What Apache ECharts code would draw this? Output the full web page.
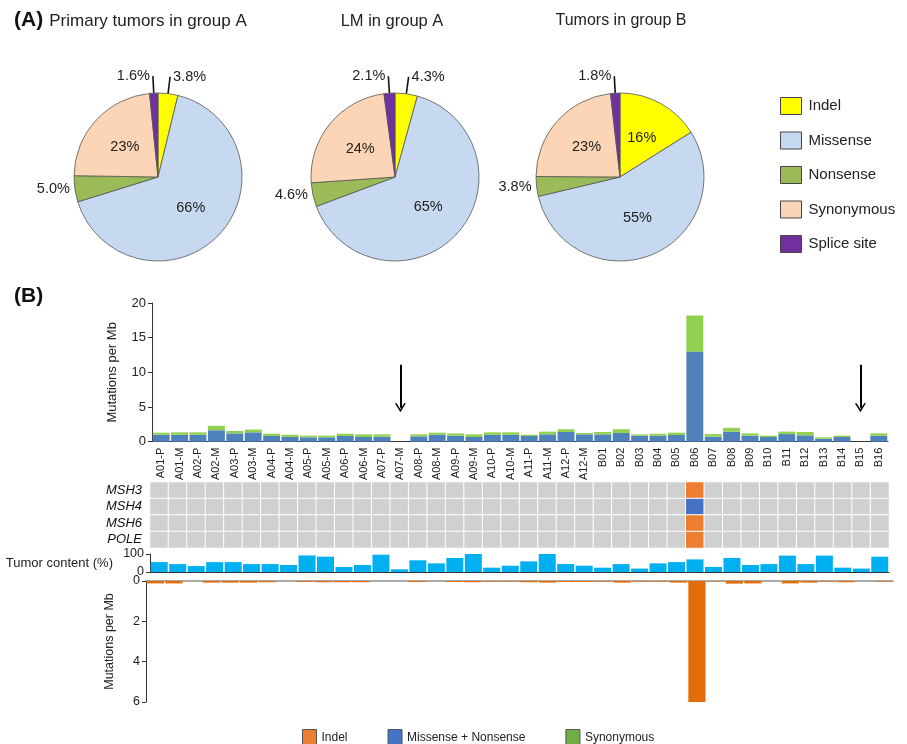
<!DOCTYPE html>
<html><head><meta charset="utf-8">
<script src="https://cdn.jsdelivr.net/npm/echarts@6/dist/echarts.min.js"></script>
<style>html,body{margin:0;padding:0;background:#fff}#c{width:907px;height:744px}</style>
</head><body><div id="c"></div>
<script>
// ---------- DATA ----------
const pieCategories = ['Indel', 'Missense', 'Nonsense', 'Synonymous', 'Splice site'];
const piePrimaryA = [3.8, 66, 5.0, 23, 1.6];
const pieLMA = [4.3, 65, 4.6, 24, 2.1];
const pieGroupB = [16, 55, 3.8, 23, 1.8];
const pieTitles = ['Primary tumors in group A', 'LM in group A', 'Tumors in group B'];

const samples = ['A01-P','A01-M','A02-P','A02-M','A03-P','A03-M','A04-P','A04-M','A05-P','A05-M',
  'A06-P','A06-M','A07-P','A07-M','A08-P','A08-M','A09-P','A09-M','A10-P','A10-M',
  'A11-P','A11-M','A12-P','A12-M','B01','B02','B03','B04','B05','B06',
  'B07','B08','B09','B10','B11','B12','B13','B14','B15','B16'];
// Mutations per Mb (top panel, stacked)
const missenseNonsense = [1.0,1.0,1.0,1.65,1.2,1.35,0.82,0.68,0.63,0.63,
  0.82,0.68,0.72,0,0.77,1.0,0.87,0.68,1.0,1.0,
  0.82,1.06,1.4,1.06,1.06,1.25,0.87,0.87,0.97,13.0,
  0.72,1.45,0.87,0.68,1.1,0.92,0.43,0.68,0,0.87];
const synonymous = [0.3,0.35,0.35,0.65,0.35,0.4,0.33,0.32,0.24,0.24,
  0.33,0.38,0.34,0,0.29,0.3,0.33,0.38,0.35,0.35,
  0.18,0.39,0.4,0.19,0.34,0.55,0.19,0.28,0.33,5.2,
  0.38,0.55,0.33,0.19,0.35,0.48,0.2,0.19,0,0.33];
// arrows mark samples without data
const arrowSamples = ['A07-M', 'B15'];
const arrowFrom = 11.1, arrowTo = 4.9;
// gene mutation status (0 none, 1 type 1, 2 type 2)
const genes = ['MSH3', 'MSH4', 'MSH6', 'POLE'];
const statusMSH3 = [0,0,0,0,0,0,0,0,0,0, 0,0,0,0,0,0,0,0,0,0, 0,0,0,0,0,0,0,0,0,1, 0,0,0,0,0,0,0,0,0,0];
const statusMSH4 = [0,0,0,0,0,0,0,0,0,0, 0,0,0,0,0,0,0,0,0,0, 0,0,0,0,0,0,0,0,0,2, 0,0,0,0,0,0,0,0,0,0];
const statusMSH6 = [0,0,0,0,0,0,0,0,0,0, 0,0,0,0,0,0,0,0,0,0, 0,0,0,0,0,0,0,0,0,1, 0,0,0,0,0,0,0,0,0,0];
const statusPOLE = [0,0,0,0,0,0,0,0,0,0, 0,0,0,0,0,0,0,0,0,0, 0,0,0,0,0,0,0,0,0,1, 0,0,0,0,0,0,0,0,0,0];
// Tumor content (%)
const tumorContent = [55,44,33,55,55,44,44,39,92,85,28,39,96,15,65,48,78,100,24,35,
  59,100,44,35,24,44,19,48,55,70,28,78,39,44,91,44,91,24,19,85];
// Indel mutations per Mb (bottom panel)
const indel = [0.12,0.12,0,0.08,0.08,0.08,0.06,0,0.04,0.06,
  0.06,0.06,0,0,0.05,0,0.05,0.06,0.03,0.03,
  0.06,0.08,0.05,0.05,0.03,0.08,0.03,0.03,0.08,6.0,
  0.02,0.13,0.12,0,0.12,0.08,0.03,0.06,0,0.03];
const topTicks = {min: 0, max: 20, interval: 5};
const bottomTicks = {min: 0, max: 6, interval: 2};

// ---------- STYLE ----------
const FONT = 'Liberation Sans, Arial, sans-serif';
const pieColors = ['#ffff00', '#c6d9f1', '#9bbb59', '#fbd5b5', '#7030a0'];
const pieCenters = [[158, 177], [395, 177], [620, 177]];
const titleX = [143, 387, 616];
const titleSizes = [17, 16.5, 16];

function pieData(values) {
  return pieCategories.map((n, i) => {
    const inside = values[i] >= 10;
    const sideLabel = n === 'Nonsense';
    return {
      name: n, value: values[i],
      itemStyle: {color: pieColors[i]},
      label: inside ? {position: 'inside'} : {position: 'outside'},
      labelLine: inside ? {show: false} :
        (sideLabel ? {show: false, length: 2, length2: 0} : {show: true, length: 17, length2: 0})
    };
  });
}
const pies = [piePrimaryA, pieLMA, pieGroupB].map((vals, k) => ({
  type: 'pie', center: pieCenters[k], radius: 84, startAngle: 90, clockwise: true,
  animation: false, silent: true, avoidLabelOverlap: false,
  itemStyle: {borderColor: '#555', borderWidth: 0.8},
  label: {fontFamily: FONT, fontSize: 14.5, color: '#222', distanceToLabelLine: 3,
    formatter: p => (p.value >= 10 ? p.value.toFixed(0) : p.value.toFixed(1)) + '%'},
  labelLine: {lineStyle: {color: '#111', width: 1.6}},
  data: pieData(vals)
}));

const heatData = [];
[statusMSH3, statusMSH4, statusMSH6, statusPOLE].forEach((arr, r) => {
  arr.forEach((v, i) => heatData.push([i, r, v]));
});

const axisCol = '#333';
const chevron = 'path://M0,10 L5,0 L10,10 L8.4,10 L5,3.2 L1.6,10 Z';
const option = {
  animation: false,
  textStyle: {fontFamily: FONT},
  title: [
    {text: '(A)', left: 9, top: 5, textStyle: {fontFamily: FONT, fontSize: 21, fontWeight: 'bold', color: '#111'}},
    {text: '(B)', left: 9, top: 281, textStyle: {fontFamily: FONT, fontSize: 21, fontWeight: 'bold', color: '#111'}}
  ].concat(pieTitles.map((t, k) => ({
    text: t, left: titleX[k], top: 8, textAlign: 'center',
    textStyle: {fontFamily: FONT, fontSize: titleSizes[k], fontWeight: 'normal', color: '#222'}
  }))),
  legend: [
    {data: pieCategories, orient: 'vertical', left: 775, top: 92, itemWidth: 21, itemHeight: 17,
      itemGap: 16.5, icon: 'rect', selectedMode: false,
      itemStyle: {borderColor: '#444', borderWidth: 1},
      textStyle: {fontFamily: FONT, fontSize: 15, color: '#222', padding: [0, 0, 0, 2]}},
    {data: [
        {name: 'b_Indel', itemStyle: {color: '#ed7d31', borderColor: '#555', borderWidth: 1}},
        {name: 'b_MN', itemStyle: {color: '#4472c4', borderColor: '#555', borderWidth: 1}},
        {name: 'b_Syn', itemStyle: {color: '#70ad47', borderColor: '#555', borderWidth: 1}}],
      left: 297, top: 724, itemWidth: 14, itemHeight: 17, itemGap: 40, icon: 'rect', selectedMode: false,
      formatter: n => ({b_Indel: 'Indel', b_MN: 'Missense + Nonsense', b_Syn: 'Synonymous'})[n],
      textStyle: {fontFamily: FONT, fontSize: 12, color: '#222'}}
  ],
  visualMap: {type: 'piecewise', show: false, seriesIndex: 5, dimension: 2,
    pieces: [{value: 0, color: '#d0d0d0'}, {value: 1, color: '#ed7d31'}, {value: 2, color: '#4472c4'}]},
  grid: [
    {left: 152, top: 303, width: 736, height: 138.7},
    {left: 150, top: 482, width: 739, height: 66},
    {left: 150, top: 554, width: 739, height: 18},
    {left: 146, top: 581, width: 747, height: 121}
  ],
  xAxis: [
    {type: 'category', gridIndex: 0, data: samples,
      axisLine: {lineStyle: {color: axisCol}}, axisTick: {show: false},
      axisLabel: {rotate: 90, fontSize: 11, color: '#222', margin: 6, interval: 0}},
    {type: 'category', gridIndex: 1, data: samples, show: false},
    {type: 'category', gridIndex: 2, data: samples, axisLine: {lineStyle: {color: axisCol}},
      axisTick: {show: false}, axisLabel: {show: false}},
    {type: 'category', gridIndex: 3, data: samples, position: 'top',
      axisLine: {lineStyle: {color: '#aaa', width: 2}}, axisTick: {show: false}, axisLabel: {show: false}}
  ],
  yAxis: [
    {type: 'value', gridIndex: 0, min: topTicks.min, max: topTicks.max, interval: topTicks.interval,
      name: 'Mutations per Mb', nameLocation: 'middle', nameGap: 33,
      nameTextStyle: {fontSize: 13, color: '#222'},
      axisLine: {show: true, lineStyle: {color: axisCol}}, axisTick: {show: true, length: 4},
      splitLine: {show: false}, axisLabel: {fontSize: 13, color: '#222', margin: 6}},
    {type: 'category', gridIndex: 1, data: genes, inverse: true,
      axisLine: {show: false}, axisTick: {show: false},
      axisLabel: {fontSize: 13, fontStyle: 'italic', color: '#111', margin: 8, interval: 0}},
    {type: 'value', gridIndex: 2, min: 0, max: 100, interval: 100,
      name: 'Tumor content (%)', nameLocation: 'middle', nameRotate: 0, nameGap: 37,
      nameTextStyle: {fontSize: 13, color: '#222'},
      axisLine: {show: true, lineStyle: {color: axisCol}}, axisTick: {show: true, length: 4},
      splitLine: {show: false}, axisLabel: {fontSize: 12.5, color: '#222', margin: 6}},
    {type: 'value', gridIndex: 3, min: bottomTicks.min, max: bottomTicks.max, interval: bottomTicks.interval,
      inverse: true, name: 'Mutations per Mb', nameLocation: 'middle', nameGap: 30,
      nameTextStyle: {fontSize: 12.5, color: '#222'},
      axisLine: {show: true, lineStyle: {color: axisCol}}, axisTick: {show: true, length: 4},
      splitLine: {show: false}, axisLabel: {fontSize: 12.5, color: '#222', margin: 6}}
  ],
  series: pies.concat([
    {type: 'bar', name: 'b_MN', xAxisIndex: 0, yAxisIndex: 0, stack: 'top', data: missenseNonsense,
      barCategoryGap: '8%', itemStyle: {color: '#4f81bd'}, silent: true,
      markLine: {silent: true, symbol: ['none', chevron], symbolSize: [11, 9],
        lineStyle: {color: '#000', width: 2, type: 'solid'}, label: {show: false},
        data: arrowSamples.map(s => [{coord: [s, arrowFrom]}, {coord: [s, arrowTo]}])}},
    {type: 'bar', name: 'b_Syn', xAxisIndex: 0, yAxisIndex: 0, stack: 'top', data: synonymous,
      barCategoryGap: '8%', itemStyle: {color: '#92d050'}, silent: true},
    {type: 'heatmap', xAxisIndex: 1, yAxisIndex: 1, data: heatData, silent: true,
      itemStyle: {borderColor: '#fff', borderWidth: 1}},
    {type: 'bar', name: 'tumor', xAxisIndex: 2, yAxisIndex: 2, data: tumorContent,
      barCategoryGap: '8%', itemStyle: {color: '#00b0f0'}, silent: true},
    {type: 'bar', name: 'b_Indel', xAxisIndex: 3, yAxisIndex: 3, data: indel,
      barCategoryGap: '8%', itemStyle: {color: '#e46c0a'}, silent: true}
  ])
};
const chart = echarts.init(document.getElementById('c'), null, {renderer: 'canvas'});
chart.setOption(option);
</script>
</body></html>
